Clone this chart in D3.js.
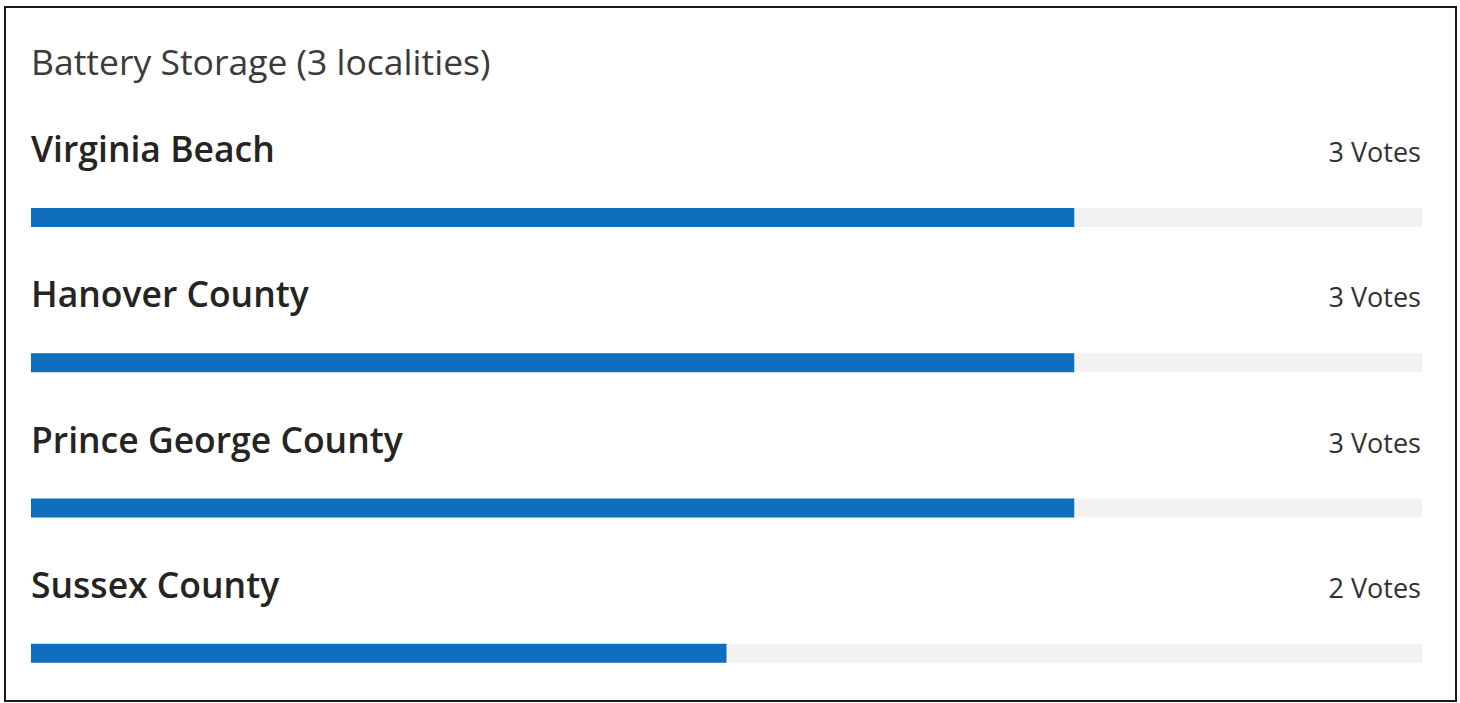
<!DOCTYPE html>
<html>
<head>
<meta charset="utf-8">
<script src="https://cdn.jsdelivr.net/npm/d3@7"></script>
<style>
  html, body { margin: 0; padding: 0; background: #fff; }
  svg { display: block; }
</style>
</head>
<body>
<div id="chart"></div>
<script>
const title = "Battery Storage (3 localities)";
const localities = ["Virginia Beach", "Hanover County", "Prince George County", "Sussex County"];
const votes = [3, 3, 3, 2];
const maxVotes = 4;

const W = 1460, H = 703;
const svg = d3.select("#chart")
    .append("svg")
    .attr("width", W)
    .attr("height", H);

// outer frame
svg.append("rect")
    .attr("x", 5)
    .attr("y", 7)
    .attr("width", 1451)
    .attr("height", 694)
    .attr("fill", "#fff")
    .attr("stroke", "#1a1a1a")
    .attr("stroke-width", 2);

svg.append("text")
    .attr("x", 31)
    .attr("y", 75)
    .text(title)
    .attr("font-family", "'Open Sans', sans-serif")
    .attr("font-size", "35.5px")
    .attr("fill", "#3b3a39");

const data = localities.map((name, i) => ({ name, votes: votes[i] }));

const x = d3.scaleLinear()
    .domain([0, maxVotes])
    .range([31, 1422]);

const y = d3.scaleBand()
    .domain(localities)
    .range([115, 696]);

const rows = svg.selectAll(".row")
    .data(data)
    .enter()
    .append("g")
    .attr("class", "row")
    .attr("transform", d => `translate(0,${y(d.name)})`);

rows.append("text")
    .attr("x", 31)
    .attr("y", 47)
    .text(d => d.name)
    .attr("font-family", "'Open Sans', sans-serif")
    .attr("font-weight", 600)
    .attr("font-size", "35.5px")
    .attr("fill", "#252423");

rows.append("text")
    .attr("x", 1421)
    .attr("y", 47)
    .attr("text-anchor", "end")
    .text(d => `${d.votes} Votes`)
    .attr("font-family", "'Open Sans', sans-serif")
    .attr("font-size", "27px")
    .attr("fill", "#323130");

// background track
rows.append("rect")
    .attr("x", x(0))
    .attr("y", 93)
    .attr("width", x(maxVotes) - x(0))
    .attr("height", 19)
    .attr("fill", "#f3f2f1");

rows.append("rect")
    .attr("class", "bar")
    .attr("x", x(0))
    .attr("y", 93)
    .attr("width", d => x(d.votes) - x(0))
    .attr("height", 19)
    .attr("fill", "#106ebe");
</script>
</body>
</html>
